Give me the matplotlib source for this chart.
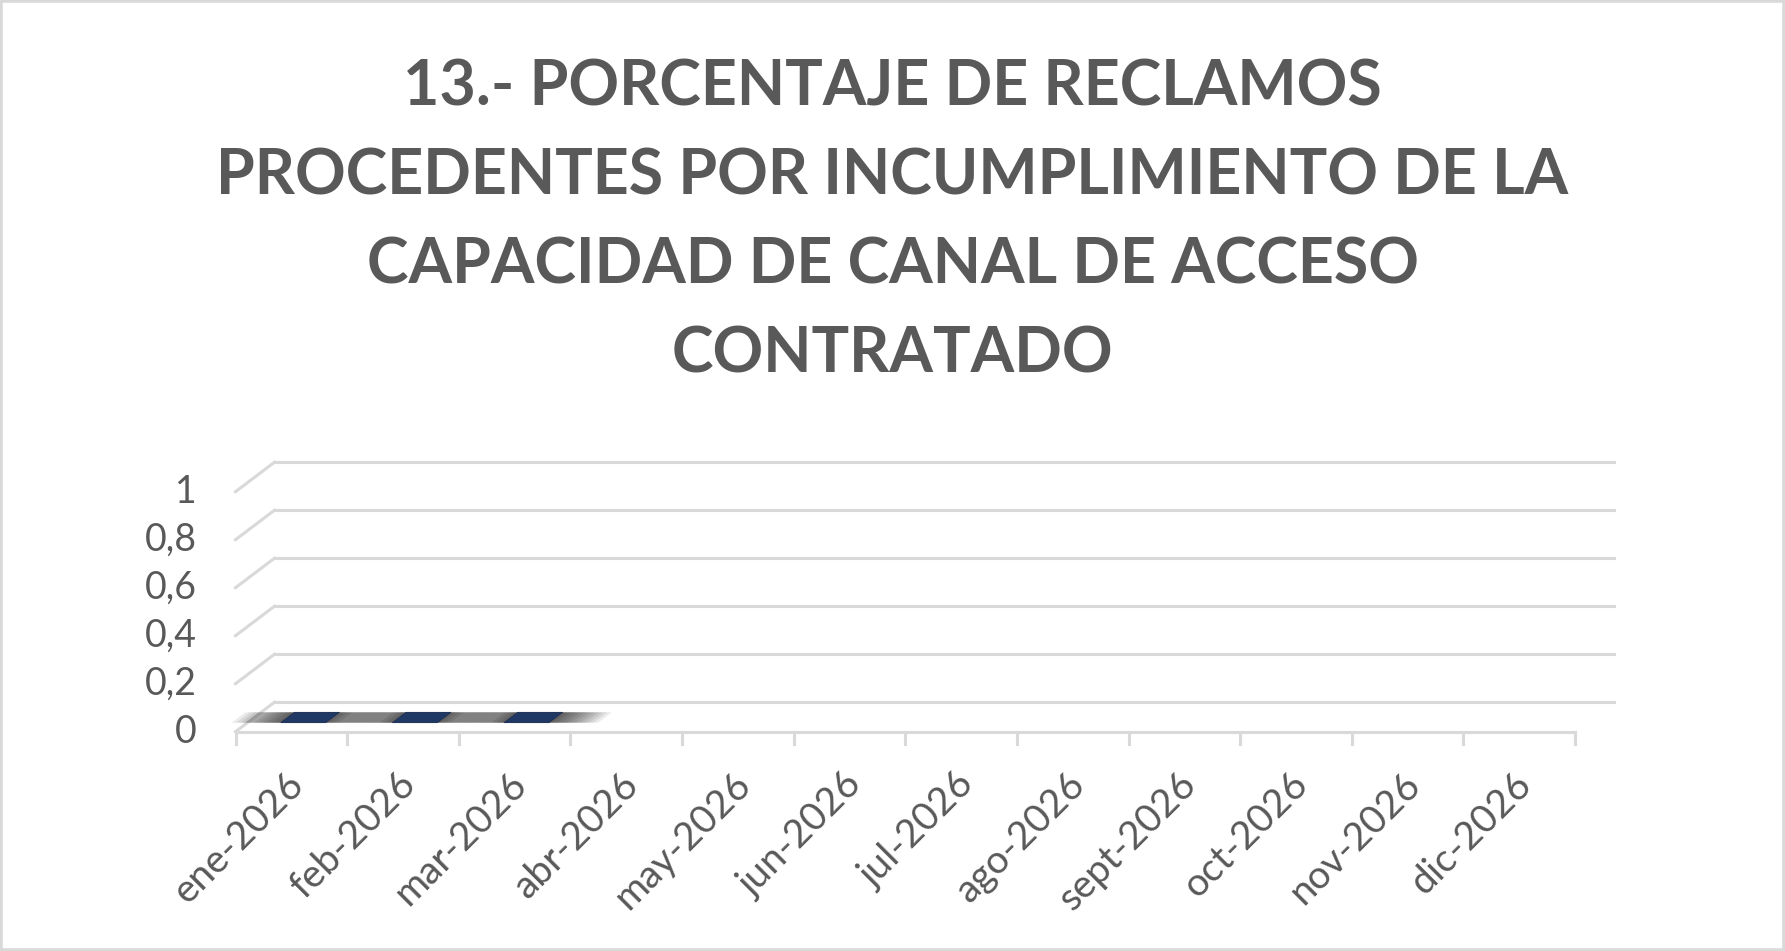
import matplotlib
matplotlib.use('Agg')
import matplotlib.pyplot as plt
from matplotlib.patches import Polygon, Rectangle

months = ['ene-2026', 'feb-2026', 'mar-2026', 'abr-2026', 'may-2026', 'jun-2026',
          'jul-2026', 'ago-2026', 'sept-2026', 'oct-2026', 'nov-2026', 'dic-2026']
values = [0, 0, 0, None, None, None, None, None, None, None, None, None]
y_ticks = [0, 0.2, 0.4, 0.6, 0.8, 1]
y_tick_labels = ['0', '0,2', '0,4', '0,6', '0,8', '1']
title_lines = ['13.- PORCENTAJE DE RECLAMOS',
               'PROCEDENTES POR INCUMPLIMIENTO DE LA',
               'CAPACIDAD DE CANAL DE ACCESO',
               'CONTRATADO']

text_color = '#595959'
grid_color = '#d9d9d9'
bar_color = '#203864'
font = 'Lato'

W, H = 1785, 951
fig = plt.figure(figsize=(W / 100, H / 100), dpi=100)
fig.patch.set_facecolor('white')

# front plane of the pseudo-3d plot, in pixels
x0, x1 = 235.5, 1575
y0, y1 = 731.7, 491.7
ax = fig.add_axes([x0 / W, 1 - y0 / H, (x1 - x0) / W, (y0 - y1) / H])
ax.set_xlim(0, len(months))
ax.set_ylim(0, 1)
ax.axis('off')

# depth offset (back wall vs front) in data units
DX = 39 / ((x1 - x0) / len(months))
DY = 29.5 / (y0 - y1)
n = len(months)
lw = 2.2

for v in y_ticks:
    ax.plot([0, DX], [v, v + DY], color=grid_color, lw=lw, clip_on=False, zorder=1)
    ax.plot([DX, n + DX], [v + DY, v + DY], color=grid_color, lw=lw, clip_on=False, zorder=1)

# floor front edge and ticks
ax.plot([0, n], [0, 0], color=grid_color, lw=lw, clip_on=False, zorder=1)
for i in range(n + 1):
    ax.plot([i, i], [0, -0.05], color=grid_color, lw=lw, clip_on=False, zorder=1)

# bars (flat, value 0) with a soft shadow
d0, d1 = 0.305, 0.658
bw = 0.403
for i, val in enumerate(values):
    if val is None:
        continue
    c = i + 0.5
    for k in range(12):
        hw = bw / 2 + k * 0.04
        ax.add_patch(Polygon([(c - hw + d0 * DX, val + d0 * DY), (c + hw + d0 * DX, val + d0 * DY),
                              (c + hw + d1 * DX, val + d1 * DY), (c - hw + d1 * DX, val + d1 * DY)],
                             closed=True, facecolor='black', edgecolor='none', alpha=0.08,
                             clip_on=False, zorder=2))
    ax.add_patch(Polygon([(c - bw / 2 + d0 * DX, val + d0 * DY), (c + bw / 2 + d0 * DX, val + d0 * DY),
                          (c + bw / 2 + d1 * DX, val + d1 * DY), (c - bw / 2 + d1 * DX, val + d1 * DY)],
                         closed=True, facecolor=bar_color, edgecolor='#1a2c50', lw=0.5,
                         clip_on=False, zorder=3))

# y tick labels
px_per_unit = (x1 - x0) / n
for v, lab in zip(y_ticks, y_tick_labels):
    ax.text(-(x0 - 197) / px_per_unit, v, lab, ha='right', va='center', fontsize=27,
            color=text_color, family=font, clip_on=False)

# category labels
for i, lab in enumerate(months):
    ax.text(i + 0.5 - 6 / px_per_unit, -(766 - y0) / (y0 - y1), lab, rotation=45,
            rotation_mode='anchor', ha='right', va='top', fontsize=28,
            color=text_color, family=font, clip_on=False)

# title
for j, line in enumerate(title_lines):
    fig.text(0.5, 1 - (105 + j * 89.3) / H, line, ha='center', va='baseline',
             fontsize=45.2, fontweight='bold', color=text_color, family=font)

fig.patches.append(Rectangle((0, 0), 1, 1, transform=fig.transFigure, fill=False,
                             edgecolor=grid_color, lw=4))

fig.savefig('out.png', dpi=100)
